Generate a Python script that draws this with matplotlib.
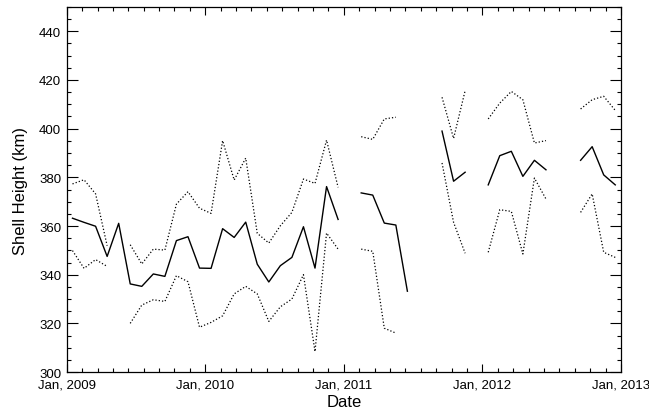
import numpy as np
import matplotlib
matplotlib.use("Agg")
import matplotlib.pyplot as plt
from matplotlib.ticker import MultipleLocator, AutoMinorLocator, FixedLocator

plt.rcParams['font.family'] = ['Liberation Sans', 'DejaVu Sans']

nan = np.nan

# monthly values, Jan 2009 .. Dec 2012
years = [2009, 2010, 2011, 2012, 2013]
year_labels = ['Jan, 2009', 'Jan, 2010', 'Jan, 2011', 'Jan, 2012', 'Jan, 2013']

shell_mean = [
    363.2, 361.5, 359.9, 347.5, 361.1, 336.2, 335.2, 340.3, 339.3, 354.0, 355.6, 342.7,
    342.6, 358.9, 355.3, 361.6, 344.3, 337.0, 343.7, 347.1, 359.7, 342.7, 376.2, 362.7,
    nan, 373.6, 372.7, 361.2, 360.4, 333.2, nan, nan, 399.0, 378.4, 382.1, nan,
    376.9, 388.9, 390.7, 380.4, 387.0, 383.1, nan, nan, 387.0, 392.6, 381.0, 376.9,
]
shell_upper = [
    377.3, 379.0, 373.2, 351.9, nan, 352.3, 344.4, 350.5, 350.1, 369.0, 374.1, 367.3,
    365.2, 395.1, 378.9, 387.9, 357.0, 353.0, 360.1, 365.6, 379.3, 377.5, 395.3, 375.9,
    nan, 396.7, 395.6, 404.0, 404.7, nan, nan, nan, 412.9, 396.0, 415.6, nan,
    404.0, 410.5, 415.3, 411.9, 394.1, 395.1, nan, nan, 408.1, 411.9, 413.3, 407.5,
]
shell_lower = [
    349.9, 342.6, 346.2, 343.4, nan, 320.0, 327.5, 329.7, 329.0, 339.6, 337.1, 318.4,
    320.4, 323.1, 332.1, 335.2, 332.1, 320.8, 326.8, 330.0, 340.0, 308.4, 357.1, 350.5,
    nan, 350.5, 349.6, 318.0, 316.0, nan, nan, nan, 385.9, 361.5, 348.8, nan,
    349.2, 366.7, 366.0, 348.5, 379.7, 371.1, nan, nan, 365.6, 373.2, 349.2, 347.1,
]

# mid-month positions in decimal years
months = np.arange(len(shell_mean))
t = 2009 + (months + 0.5) / 12.0

fig = plt.figure(figsize=(6.49, 4.14), dpi=100)
ax = fig.add_axes([0.1028, 0.099, 0.8541, 0.8817])

ax.plot(t, shell_mean, color='black', lw=1.0, ls='-')
ax.plot(t, shell_upper, color='black', lw=0.9, ls=':')
ax.plot(t, shell_lower, color='black', lw=0.9, ls=':')

ax.set_xlim(2009, 2013)
ax.set_ylim(300, 450)

ax.xaxis.set_major_locator(FixedLocator(years))
ax.set_xticklabels(year_labels)
ax.xaxis.set_minor_locator(AutoMinorLocator(9))
ax.yaxis.set_major_locator(MultipleLocator(20))
ax.yaxis.set_minor_locator(MultipleLocator(5))

ax.tick_params(which='both', direction='in', top=True, right=True,
               labelsize=9.5, width=0.8, color='black')
ax.tick_params(axis='x', which='major', length=6, pad=4.5)
ax.tick_params(axis='y', which='major', length=8, pad=4)
ax.tick_params(which='minor', length=3.2)
for sp in ax.spines.values():
    sp.set_linewidth(0.9)

ax.set_xlabel('Date', fontsize=12, labelpad=3)
ax.set_ylabel('Shell Height (km)', fontsize=12, labelpad=8)

fig.savefig('out.png', dpi=100)
